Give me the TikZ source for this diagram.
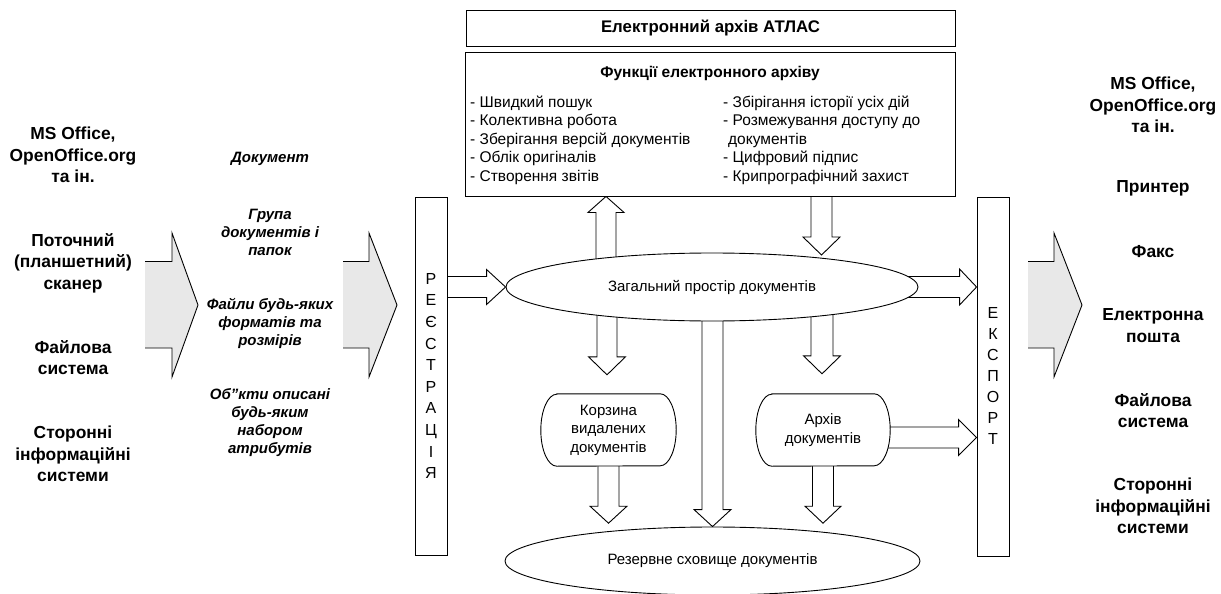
\documentclass[tikz,border=0pt]{standalone}
\usepackage{fontspec}
\setmainfont{Liberation Sans}
\usetikzlibrary{shapes.geometric,calc}
\pgfdeclarelayer{arrows}
\pgfdeclarelayer{shapes}
\pgfsetlayers{arrows,shapes,main}

\tikzset{
  box/.style={draw, line width=0.9pt, fill=white, inner sep=0pt},
  oval/.style={ellipse, draw, line width=0.9pt, fill=white, inner sep=0pt},
  hollow/.style={draw, line width=0.9pt, fill=white},
  bigarrow/.style={fill=black!9},
  bigedge/.style={draw, line width=0.9pt},
  src/.style={font=\fontsize{17.4}{21.5}\selectfont\bfseries, align=center},
  kind/.style={font=\fontsize{15}{18}\selectfont\bfseries\itshape, align=center},
  plain/.style={font=\fontsize{15}{18.5}\selectfont},
  listtext/.style={font=\fontsize{15.5}{18.5}\selectfont, align=left, anchor=west, inner sep=0pt},
}

% hollow block arrow: tail, tip, shaft half width, head half width, head length
\newcommand\blockarr[5]{%
  \coordinate (bah) at ($(#2)!#5!(#1)$);
  \draw[hollow] ($(#1)!#3!90:(#2)$) -- ($(bah)!#3!90:(#2)$) -- ($(bah)!#4!90:(#2)$)
    -- (#2) -- ($(bah)!#4!-90:(#2)$) -- ($(bah)!#3!-90:(#2)$) -- ($(#1)!#3!-90:(#2)$);
}

\begin{document}
\begin{tikzpicture}[x=1pt,y=-1pt]
\useasboundingbox (0,0) rectangle (1221,594);

% title and functions
\node[box, minimum width=489pt, minimum height=36pt, font=\fontsize{16.8}{19}\selectfont\bfseries] (atlas) at (710.5,28) {Електронний архів АТЛАС};
\node[box, minimum width=490pt, minimum height=144pt] (func) at (710,124) {};
\node[font=\fontsize{15.5}{18}\selectfont\bfseries] (functitle) at (710,73) {Функції електронного архіву};
\node[listtext] (fleft) at (470,140)
  {- Швидкий пошук\\- Колективна робота\\- Зберігання версій документів\\- Облік оригіналів\\- Створення звітів};
\node[listtext] (fright) at (723,140)
  {- Збірігання історії усіх дій\\- Розмежування доступу до\\\hspace*{5pt}документів\\- Цифровий підпис\\- Крипрографічний захист};

% registration and export bars
\node[box, minimum width=32pt, minimum height=358pt] (reg) at (431,376) {};
\node[font=\fontsize{16}{21.6}\selectfont, align=center] (regtxt) at (reg.center) {Р\\Е\\Є\\С\\Т\\Р\\А\\Ц\\І\\Я};
\node[box, minimum width=32pt, minimum height=359pt] (exp) at (993,376.5) {};
\node[font=\fontsize{16}{21}\selectfont, align=center] (exptxt) at (993,376) {Е\\К\\С\\П\\О\\Р\\Т};

% document spaces
\node[oval, plain, minimum width=412pt, minimum height=68pt] (space) at (712,287) {Загальний простір документів};
\node[oval, plain, minimum width=415pt, minimum height=68pt] (reserve) at (712.5,561) {Резервне сховище документів};
\node[plain, align=center, minimum width=135pt, minimum height=72pt, inner sep=0pt] (bin) at (608.5,430) {Корзина\\видалених\\документів};
\node[plain, align=center, minimum width=134pt, minimum height=72pt, inner sep=0pt] (arch) at (823,430) {Архів\\документів};

\begin{pgfonlayer}{shapes}
\foreach \n in {bin,arch} {
  \draw[hollow] ([xshift=16pt]\n.north west) -- ([xshift=-16pt]\n.north east)
    arc[start angle=90, end angle=-90, x radius=16pt, y radius=36pt]
    -- ([xshift=16pt]\n.south west)
    arc[start angle=270, end angle=90, x radius=16pt, y radius=36pt] -- cycle;
}
\end{pgfonlayer}

% flows between the parts
\begin{pgfonlayer}{arrows}
\coordinate (r1) at (reg.east |- space.west);
\blockarr{r1}{space.west}{10.5pt}{17.5pt}{19pt}
\coordinate (e1) at (exp.west |- space.east);
\blockarr{space.center}{e1}{10.5pt}{18pt}{17pt}
\coordinate (u1) at ($(space.center)+(-106,0)$);
\coordinate (u2) at (u1 |- func.south);
\blockarr{u1}{u2}{10pt}{18pt}{16pt}
\coordinate (d1) at ($(func.south)+(111.5,0)$);
\coordinate (d2) at ($(space.center)+(109.5,-32)$);
\blockarr{d1}{d2}{10.5pt}{18.5pt}{18pt}
\coordinate (b1) at ($(space.center)+(-105,0)$);
\coordinate (b2) at ($(bin.north)+(-1.5,-19)$);
\blockarr{b1}{b2}{10pt}{18.5pt}{18pt}
\coordinate (a1) at ($(space.center)+(110,0)$);
\coordinate (a2) at ($(arch.north)+(-1,-20)$);
\blockarr{a1}{a2}{11pt}{18.5pt}{18pt}
\coordinate (m1) at (reserve.north |- space.center);
\blockarr{m1}{reserve.north}{10.5pt}{18.5pt}{17pt}
\coordinate (b3) at ($(bin.south)+(0,57)$);
\blockarr{bin.south}{b3}{10.5pt}{18.5pt}{17pt}
\coordinate (a3) at ($(arch.south)+(0,57)$);
\blockarr{arch.south}{a3}{10.5pt}{18pt}{17pt}
\coordinate (a4) at ($(arch.center)+(0,7.5)$);
\coordinate (a5) at (exp.west |- a4);
\blockarr{a4}{a5}{10.5pt}{18pt}{18pt}
\end{pgfonlayer}

% wide grey arrows
\foreach \x/\b/\t in {145/172/198, 343/369/397, 1028/1054/1082} {
  \fill[bigarrow] (\x,261.5) -- (\b,261.5) -- (\b,233) -- (\t,305) -- (\b,377) -- (\b,348) -- (\x,348) -- cycle;
  \draw[bigedge] (\x,261.5) -- (\b,261.5) -- (\b,233) -- (\t,305) -- (\b,377) -- (\b,348) -- (\x,348);
}

% sources
\node[src] (s1) at (73,155) {MS Office,\\OpenOffice.org\\та ін.};
\node[src] (s2) at (73,263) {Поточний\\(планшетний)\\сканер};
\node[src] (s3) at (73,357.5) {Файлова\\система};
\node[src] (s4) at (73,454) {Сторонні\\інформаційні\\системи};

% kinds of input
\node[kind] (k1) at (270,159) {Документ};
\node[kind] (k2) at (270,232) {Група\\документів і\\папок};
\node[kind] (k3) at (270,323) {Файли будь-яких\\форматів та\\розмірів};
\node[kind] (k4) at (270,423) {Об”кти описані\\будь-яким\\набором\\атрибутів};

% destinations
\node[src] (t1) at (1153,105) {MS Office,\\OpenOffice.org\\та ін.};
\node[src] (t2) at (1153,188) {Принтер};
\node[src] (t3) at (1153,252) {Факс};
\node[src] (t4) at (1153,325.5) {Електронна\\пошта};
\node[src] (t5) at (1153,410.5) {Файлова\\система};
\node[src] (t6) at (1153,506) {Сторонні\\інформаційні\\системи};
\end{tikzpicture}
\end{document}
